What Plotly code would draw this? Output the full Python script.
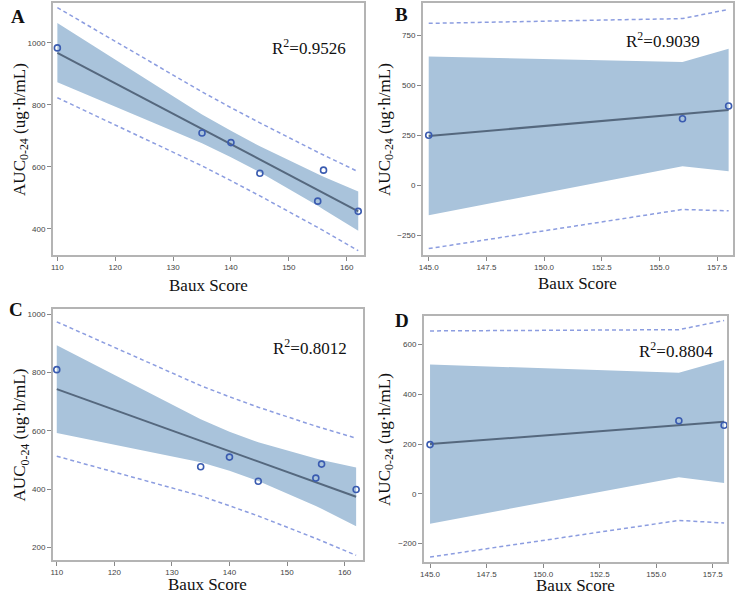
import plotly.graph_objects as go

# ---------------- data ----------------
x_AC = [110, 135, 140, 145, 155, 156, 162]
aucA = [984, 709, 678, 579, 489, 589, 456]
aucC = [810, 477, 510, 427, 438, 486, 399]
x_BD = [145, 156, 158]
aucB = [250, 332, 396]
aucD = [198, 294, 276]

fitA = [968, 722, 673, 624, 525, 515, 456]
clA_lo = [873, 676, 631, 582, 474, 462, 393]
clA_hi = [1064, 769, 716, 666, 577, 568, 520]
plA_lo = [823, 603, 555, 506, 404, 393, 329]
plA_hi = [1114, 842, 791, 742, 647, 638, 584]

fitC = [743, 566, 530, 495, 423, 416, 374]
clC_lo = [593, 492, 463, 428, 342, 333, 273]
clC_hi = [894, 640, 597, 561, 505, 500, 474]
plC_lo = [513, 377, 343, 308, 231, 223, 173]
plC_hi = [974, 755, 717, 681, 616, 610, 575]

fitB = [246, 356, 376]
clB_lo = [-151, 95, 69]
clB_hi = [644, 617, 683]
plB_lo = [-318, -122, -129]
plB_hi = [810, 834, 880]

fitD = [200, 276, 290]
clD_lo = [-120, 67, 44]
clD_hi = [520, 487, 538]
plD_lo = [-254, -107, -117]
plD_hi = [655, 660, 697]

r2_labels = ["R<sup>2</sup>=0.9526", "R<sup>2</sup>=0.9039", "R<sup>2</sup>=0.8012", "R<sup>2</sup>=0.8804"]
panel_labels = ["A", "B", "C", "D"]
ac_xticks = [110, 120, 130, 140, 150, 160]
bd_xticks = [145.0, 147.5, 150.0, 152.5, 155.0, 157.5]

# ---------------- styles ----------------
W, H = 736, 595
BAND = "#a9c3db"
FIT = "#55687e"
MARK = "#3a5bb0"
DASH = "#8c9de0"
FRAME = "#b4b4b4"
SERIF = "Liberation Serif, Times New Roman, serif"
SANS = "Liberation Sans, Arial, sans-serif"

panels = [
    dict(x=x_AC, y=aucA, fit=fitA, clo=clA_lo, chi=clA_hi, plo=plA_lo, phi=plA_hi,
         px=(49, 362), py=(3, 255), xr=[109.2, 163.0], yr=[315, 1129],
         xt=ac_xticks, yt=[400, 600, 800, 1000], xfmt="d",
         r2=(267, 47), lab=(5, 4), ytx=17, xty=285),
    dict(x=x_BD, y=aucB, fit=fitB, clo=clB_lo, chi=clB_hi, plo=plB_lo, phi=plB_hi,
         px=(421, 733), py=(3, 255), xr=[144.74, 158.19], yr=[-350, 912],
         xt=bd_xticks, yt=[-250, 0, 250, 500, 750], xfmt=".1f",
         r2=(623, 40), lab=(391, 2), ytx=384, xty=283),
    dict(x=x_AC, y=aucC, fit=fitC, clo=clC_lo, chi=clC_hi, plo=plC_lo, phi=plC_hi,
         px=(49, 361), py=(309, 560), xr=[109.3, 163.2], yr=[157, 1018],
         xt=ac_xticks, yt=[200, 400, 600, 800, 1000], xfmt="d",
         r2=(268, 347), lab=(3, 297), ytx=17, xty=584),
    dict(x=x_BD, y=aucD, fit=fitD, clo=clD_lo, chi=clD_hi, plo=plD_lo, phi=plD_hi,
         px=(422, 727), py=(316, 562), xr=[144.72, 158.13], yr=[-274, 715],
         xt=bd_xticks, yt=[-200, 0, 200, 400, 600], xfmt=".1f",
         r2=(636, 350), lab=(391, 308), ytx=384, xty=585),
]

fig = go.Figure()
annotations = []
layout_axes = {}

for i, p in enumerate(panels):
    n = i + 1
    xa = "x" if n == 1 else f"x{n}"
    ya = "y" if n == 1 else f"y{n}"
    # confidence band
    fig.add_trace(go.Scatter(
        x=p["x"] + p["x"][::-1], y=p["chi"] + p["clo"][::-1],
        fill="toself", fillcolor=BAND, line=dict(width=0), mode="lines",
        hoverinfo="skip", showlegend=False, xaxis=xa, yaxis=ya))
    # prediction limits
    for lim in (p["plo"], p["phi"]):
        fig.add_trace(go.Scatter(
            x=p["x"], y=lim, mode="lines",
            line=dict(color=DASH, width=1.5, dash="4px,3px"),
            showlegend=False, xaxis=xa, yaxis=ya))
    # fit line
    fig.add_trace(go.Scatter(
        x=p["x"], y=p["fit"], mode="lines",
        line=dict(color=FIT, width=2), showlegend=False, xaxis=xa, yaxis=ya))
    # observations
    fig.add_trace(go.Scatter(
        x=p["x"], y=p["y"], mode="markers",
        marker=dict(symbol="circle-open", size=6, color=MARK, line=dict(width=1.6)),
        showlegend=False, xaxis=xa, yaxis=ya, cliponaxis=False))

    x0, x1 = p["px"]
    y0, y1 = p["py"]
    common = dict(showgrid=False, zeroline=False, showline=True, mirror=True,
                  linecolor=FRAME, linewidth=1.5, ticks="outside", ticklen=4,
                  tickcolor="#888888", tickwidth=1,
                  tickfont=dict(family=SANS, size=8, color="#444444"))
    layout_axes["xaxis" if n == 1 else f"xaxis{n}"] = dict(
        domain=[x0 / W, x1 / W], range=p["xr"], anchor=ya,
        tickvals=p["xt"], tickformat=p["xfmt"], **common)
    layout_axes["yaxis" if n == 1 else f"yaxis{n}"] = dict(
        domain=[1 - y1 / H, 1 - y0 / H], range=p["yr"], anchor=xa,
        tickvals=p["yt"], **common)

    # R^2 label
    annotations.append(dict(x=p["r2"][0] / W, y=1 - p["r2"][1] / H, xref="paper", yref="paper",
                            text=r2_labels[i], showarrow=False, xanchor="left", yanchor="middle",
                            font=dict(family=SERIF, size=17, color="#111111")))
    # panel letter
    annotations.append(dict(x=p["lab"][0] / W, y=1 - p["lab"][1] / H, xref="paper", yref="paper",
                            text=f"<b>{panel_labels[i]}</b>", showarrow=False, xanchor="left", yanchor="top",
                            font=dict(family=SERIF, size=19, color="#111111")))
    # y axis title
    annotations.append(dict(x=p["ytx"] / W, y=1 - ((y0 + y1) / 2) / H, xref="paper", yref="paper",
                            text="AUC<sub>0-24</sub> (ug·h/mL)", textangle=-90, showarrow=False,
                            xanchor="center", yanchor="middle",
                            font=dict(family=SERIF, size=17, color="#111111")))
    # x axis title
    annotations.append(dict(x=((x0 + x1) / 2) / W, y=1 - p["xty"] / H, xref="paper", yref="paper",
                            text="Baux Score", showarrow=False, xanchor="center", yanchor="middle",
                            font=dict(family=SERIF, size=17, color="#111111")))

fig.update_layout(
    width=W, height=H, margin=dict(l=0, r=0, t=0, b=0),
    paper_bgcolor="white", plot_bgcolor="white",
    annotations=annotations, **layout_axes)

fig.write_html("out.html", config={"displayModeBar": False},
               post_script="document.body.style.margin='0';document.body.style.padding='0';")
